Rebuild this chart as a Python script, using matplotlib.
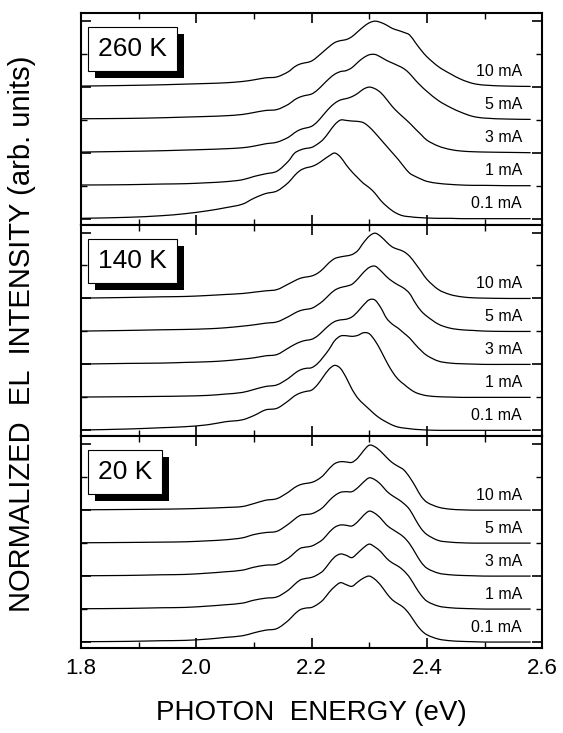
import matplotlib
matplotlib.use("Agg")
import matplotlib.pyplot as plt
from matplotlib.ticker import MultipleLocator, FormatStrFormatter
from matplotlib.patches import Rectangle, PathPatch
from matplotlib.path import Path
from matplotlib.transforms import IdentityTransform

plt.rcParams['font.family'] = ['Liberation Sans', 'DejaVu Sans']

# --- datos (intensidad normalizada, pico = 2) ---
energy = [1.80, 1.88, 1.94, 1.98, 2.02, 2.05, 2.08, 2.10, 2.12, 2.14, 2.16,
          2.17, 2.18, 2.19, 2.20, 2.21, 2.22, 2.23, 2.24, 2.25, 2.26, 2.27,
          2.28, 2.29, 2.30, 2.31, 2.32, 2.33, 2.34, 2.35, 2.36, 2.37, 2.38,
          2.39, 2.40, 2.42, 2.44, 2.46, 2.48, 2.50, 2.54, 2.58]

currents = ['0.1 mA', '1 mA', '3 mA', '5 mA', '10 mA']
temps = ['260 K', '140 K', '20 K']

# 260 K
t260_01 = [0.01, 0.04, 0.09, 0.15, 0.24, 0.33, 0.44, 0.62, 0.76, 0.84, 1.10,
           1.30, 1.46, 1.54, 1.58, 1.66, 1.78, 1.90, 1.99, 1.87, 1.63, 1.42,
           1.24, 1.07, 0.94, 0.77, 0.55, 0.38, 0.24, 0.14, 0.08, 0.06, 0.04,
           0.03, 0.02, 0.01, 0.01, 0.0, 0.0, 0.0, 0.0, 0.0]
t260_1 = [0.02, 0.03, 0.05, 0.06, 0.09, 0.12, 0.18, 0.28, 0.36, 0.44, 0.75,
          0.98, 1.08, 1.13, 1.16, 1.26, 1.40, 1.62, 1.85, 1.99, 1.98, 1.96,
          1.95, 1.91, 1.78, 1.60, 1.40, 1.20, 1.00, 0.80, 0.58, 0.38, 0.28,
          0.20, 0.13, 0.07, 0.04, 0.02, 0.01, 0.01, 0.0, 0.0]
t260_3 = [0.02, 0.04, 0.06, 0.08, 0.10, 0.12, 0.15, 0.20, 0.27, 0.32, 0.47,
          0.60, 0.70, 0.75, 0.80, 0.94, 1.14, 1.34, 1.50, 1.60, 1.64, 1.70,
          1.80, 1.93, 1.99, 1.94, 1.82, 1.62, 1.40, 1.22, 1.06, 0.90, 0.72,
          0.55, 0.38, 0.20, 0.10, 0.05, 0.03, 0.02, 0.01, 0.0]
t260_5 = [0.03, 0.04, 0.06, 0.08, 0.10, 0.12, 0.16, 0.22, 0.28, 0.31, 0.47,
          0.60, 0.69, 0.74, 0.78, 0.90, 1.07, 1.24, 1.38, 1.46, 1.49, 1.58,
          1.74, 1.88, 1.97, 1.98, 1.90, 1.80, 1.72, 1.64, 1.55, 1.40, 1.20,
          1.02, 0.86, 0.58, 0.38, 0.22, 0.10, 0.05, 0.02, 0.01]
t260_10 = [0.02, 0.04, 0.06, 0.08, 0.10, 0.12, 0.16, 0.21, 0.27, 0.30, 0.46,
           0.60, 0.69, 0.73, 0.78, 0.91, 1.06, 1.21, 1.34, 1.40, 1.43, 1.52,
           1.67, 1.82, 1.94, 1.99, 1.95, 1.87, 1.77, 1.71, 1.65, 1.57, 1.34,
           1.11, 0.91, 0.61, 0.40, 0.22, 0.10, 0.05, 0.02, 0.01]

# 140 K
t140_01 = [0.01, 0.04, 0.08, 0.11, 0.17, 0.26, 0.32, 0.45, 0.62, 0.67, 0.90,
           1.04, 1.13, 1.18, 1.22, 1.38, 1.62, 1.85, 1.97, 1.88, 1.60, 1.25,
           0.98, 0.80, 0.64, 0.48, 0.35, 0.25, 0.16, 0.10, 0.07, 0.05, 0.03,
           0.02, 0.01, 0.0, 0.0, 0.0, 0.0, 0.0, 0.0, 0.0]
t140_1 = [0.01, 0.02, 0.03, 0.04, 0.06, 0.10, 0.15, 0.24, 0.33, 0.38, 0.58,
          0.72, 0.83, 0.88, 0.90, 1.02, 1.22, 1.45, 1.72, 1.86, 1.87, 1.85,
          1.88, 1.96, 1.93, 1.72, 1.42, 1.08, 0.78, 0.55, 0.40, 0.26, 0.15,
          0.09, 0.05, 0.02, 0.01, 0.0, 0.0, 0.0, 0.0, 0.0]
t140_3 = [0.01, 0.03, 0.04, 0.06, 0.08, 0.11, 0.16, 0.20, 0.26, 0.30, 0.50,
          0.60, 0.68, 0.73, 0.76, 0.86, 1.02, 1.18, 1.30, 1.35, 1.37, 1.44,
          1.60, 1.80, 1.96, 1.95, 1.72, 1.40, 1.22, 1.10, 0.95, 0.80, 0.60,
          0.42, 0.27, 0.10, 0.04, 0.02, 0.01, 0.0, 0.0, 0.0]
t140_5 = [0.01, 0.03, 0.05, 0.06, 0.08, 0.11, 0.16, 0.20, 0.25, 0.29, 0.45,
          0.55, 0.63, 0.67, 0.70, 0.80, 0.93, 1.10, 1.25, 1.33, 1.37, 1.43,
          1.59, 1.79, 1.94, 1.98, 1.84, 1.66, 1.52, 1.41, 1.31, 1.15, 0.86,
          0.62, 0.46, 0.22, 0.10, 0.05, 0.03, 0.01, 0.0, 0.0]
t140_10 = [0.01, 0.03, 0.05, 0.06, 0.09, 0.12, 0.15, 0.19, 0.23, 0.27, 0.44,
           0.53, 0.61, 0.65, 0.68, 0.76, 0.90, 1.08, 1.21, 1.26, 1.29, 1.33,
           1.45, 1.69, 1.89, 1.98, 1.88, 1.71, 1.56, 1.49, 1.42, 1.28, 1.06,
           0.82, 0.58, 0.27, 0.12, 0.05, 0.02, 0.01, 0.0, 0.0]

# 20 K
t20_01 = [0.01, 0.02, 0.04, 0.05, 0.09, 0.14, 0.19, 0.28, 0.36, 0.41, 0.66,
          0.84, 0.98, 1.03, 1.05, 1.14, 1.28, 1.50, 1.68, 1.80, 1.74, 1.69,
          1.82, 1.94, 2.00, 1.90, 1.72, 1.48, 1.28, 1.16, 1.04, 0.84, 0.58,
          0.36, 0.22, 0.09, 0.04, 0.02, 0.01, 0.0, 0.0, 0.0]
t20_1 = [0.01, 0.02, 0.04, 0.05, 0.09, 0.13, 0.18, 0.27, 0.33, 0.37, 0.58,
         0.74, 0.88, 0.93, 0.96, 1.04, 1.16, 1.38, 1.58, 1.67, 1.63, 1.56,
         1.70, 1.86, 1.97, 1.88, 1.74, 1.54, 1.40, 1.30, 1.16, 0.96, 0.68,
         0.42, 0.24, 0.09, 0.04, 0.02, 0.01, 0.0, 0.0, 0.0]
t20_3 = [0.01, 0.02, 0.04, 0.05, 0.09, 0.13, 0.18, 0.27, 0.33, 0.36, 0.55,
         0.70, 0.84, 0.88, 0.91, 1.00, 1.12, 1.32, 1.48, 1.55, 1.54, 1.52,
         1.65, 1.84, 1.97, 1.90, 1.75, 1.55, 1.42, 1.31, 1.18, 0.98, 0.70,
         0.42, 0.24, 0.09, 0.04, 0.02, 0.01, 0.0, 0.0, 0.0]
t20_5 = [0.01, 0.02, 0.03, 0.04, 0.07, 0.10, 0.16, 0.26, 0.32, 0.36, 0.58,
         0.72, 0.84, 0.87, 0.89, 0.97, 1.09, 1.28, 1.44, 1.54, 1.56, 1.56,
         1.68, 1.85, 1.98, 1.92, 1.78, 1.58, 1.44, 1.33, 1.20, 1.02, 0.72,
         0.44, 0.26, 0.08, 0.03, 0.01, 0.0, 0.0, 0.0, 0.0]
t20_10 = [0.01, 0.02, 0.03, 0.04, 0.06, 0.08, 0.11, 0.20, 0.30, 0.35, 0.55,
          0.68, 0.77, 0.81, 0.84, 0.92, 1.05, 1.25, 1.41, 1.47, 1.46, 1.45,
          1.58, 1.80, 1.97, 1.92, 1.78, 1.60, 1.44, 1.33, 1.22, 1.00, 0.72,
          0.42, 0.24, 0.09, 0.03, 0.01, 0.0, 0.0, 0.0, 0.0]

panels = [
    [t260_01, t260_1, t260_3, t260_5, t260_10],
    [t140_01, t140_1, t140_3, t140_5, t140_10],
    [t20_01, t20_1, t20_3, t20_5, t20_10],
]


def curva_suave(x, y):
    # trazo con tramos de Bezier cubicos (Hermite) que pasan por cada punto
    n = len(x)
    m = []
    for j in range(n):
        a, b = max(j - 1, 0), min(j + 1, n - 1)
        m.append((y[b] - y[a]) / (x[b] - x[a]))
    verts = [(x[0], y[0])]
    codes = [Path.MOVETO]
    for j in range(n - 1):
        h = x[j + 1] - x[j]
        verts += [(x[j] + h / 3, y[j] + m[j] * h / 3),
                  (x[j + 1] - h / 3, y[j + 1] - m[j + 1] * h / 3),
                  (x[j + 1], y[j + 1])]
        codes += [Path.CURVE4] * 3
    return Path(verts, codes)


fig = plt.figure(figsize=(5.63, 7.33), dpi=100)
left, width = 0.144, 0.819
bottom, height = 0.116, 0.2888

cajas = []
for i, (temp, spectra) in enumerate(zip(temps, panels)):
    ax = fig.add_axes([left, bottom + (2 - i) * height, width, height])

    # espectros desplazados una unidad cada uno
    for k, (lab, y) in enumerate(zip(currents, spectra)):
        yy = [v + k for v in y]
        ax.add_patch(PathPatch(curva_suave(energy, yy), fc='none',
                               ec='black', lw=0.9))
        ax.text(2.565, k + 0.45, lab, ha='right', va='center', fontsize=11.5)

    # caja de la temperatura (la sombra se pone despues)
    t = ax.text(0.037, 0.83, temp, transform=ax.transAxes, fontsize=19,
                ha='left', va='center', color='black', zorder=5,
                bbox=dict(boxstyle='square,pad=0.38', fc='white', ec='black',
                          lw=0.8))
    cajas.append((ax, t))

    ax.set_xlim(1.8, 2.6)
    ax.set_ylim(-0.18, 6.24)
    ax.xaxis.set_major_locator(MultipleLocator(0.2))
    ax.xaxis.set_minor_locator(MultipleLocator(0.1))
    ax.xaxis.set_major_formatter(FormatStrFormatter('%.1f'))
    ax.yaxis.set_major_locator(MultipleLocator(2))
    ax.yaxis.set_minor_locator(MultipleLocator(1))
    ax.tick_params(which='both', direction='in', top=True, right=True,
                   labelleft=False, labelsize=16, pad=7)
    ax.tick_params(which='major', length=7, width=1.2)
    ax.tick_params(which='minor', length=4, width=1.0)
    if i < 2:
        ax.tick_params(labelbottom=False)
    for s in ax.spines.values():
        s.set_linewidth(1.5)

fig.text(0.553, 0.027, 'PHOTON  ENERGY (eV)', ha='center', va='center',
         fontsize=20)
fig.text(0.039, 0.545, 'NORMALIZED  EL  INTENSITY (arb. units)', rotation=90,
         ha='center', va='center', fontsize=21)

# sombra negra desplazada detras de cada caja
fig.canvas.draw()
for ax, t in cajas:
    bb = t.get_bbox_patch().get_window_extent()
    ax.add_patch(Rectangle((bb.x0 + 7, bb.y0 - 7), bb.width, bb.height,
                           transform=IdentityTransform(), fc='black',
                           ec='none', zorder=4))

fig.savefig('out.png', dpi=100)
